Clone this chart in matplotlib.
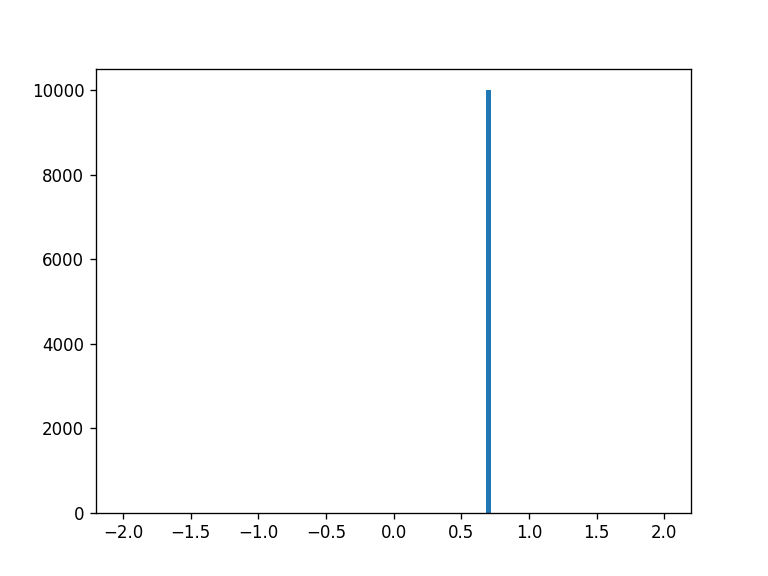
import matplotlib
matplotlib.use("Agg")
import matplotlib.pyplot as plt
import numpy as np

# Data: all samples fall in one bin
values = [0.7]
counts = [10000]
n_bins = 100
hist_range = (-2, 2)

fig, ax = plt.subplots(figsize=(6.4, 4.8), dpi=120)
ax.hist(values, bins=n_bins, range=hist_range, weights=counts)
fig.savefig("out.png", dpi=120)
